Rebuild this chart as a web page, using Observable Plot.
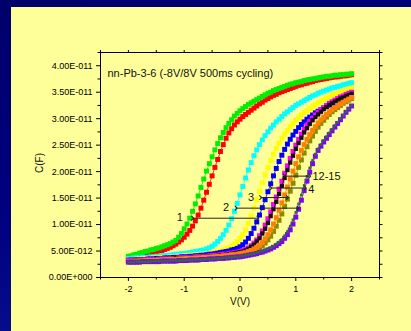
<!DOCTYPE html>
<html><head><meta charset="utf-8">
<script src="https://cdn.jsdelivr.net/npm/d3@7"></script>
<script src="https://cdn.jsdelivr.net/npm/@observablehq/plot@0.6"></script>
<style>
html,body{margin:0;padding:0;width:411px;height:331px;overflow:hidden;}
body{background:linear-gradient(160deg,#00006a 0%,#000080 45%,#0c1c96 100%);position:relative;font-family:"Liberation Sans",Arial,sans-serif;}
#panel{position:absolute;left:11px;top:7px;right:0;bottom:0;background:#ffff99;}
#chart{position:absolute;left:0;top:0;}
</style></head><body><div id="panel"></div><div id="chart"></div>
<script>
// Voltage sweep points (V)
const volts = [-2,-1.95,-1.9,-1.85,-1.8,-1.75,-1.7,-1.65,-1.6,-1.55,-1.5,-1.45,-1.4,-1.35,-1.3,-1.25,-1.2,-1.15,-1.1,-1.05,
  -1,-0.95,-0.9,-0.85,-0.8,-0.75,-0.7,-0.65,-0.6,-0.55,-0.5,-0.45,-0.4,-0.35,-0.3,-0.25,-0.2,-0.15,-0.1,-0.05,
  0,0.05,0.1,0.15,0.2,0.25,0.3,0.35,0.4,0.45,0.5,0.55,0.6,0.65,0.7,0.75,0.8,0.85,0.9,0.95,
  1,1.05,1.1,1.15,1.2,1.25,1.3,1.35,1.4,1.45,1.5,1.55,1.6,1.65,1.7,1.75,1.8,1.85,1.9,1.95,2];

// Capacitance in pF (1e-12 F)
const red = [3.8,3.9,4.0,4.1,4.2,4.3,4.4,4.5,4.6,4.7,4.8,5.0,5.1,5.3,5.5,5.7,6.0,6.3,
  6.7,7.1,7.6,8.2,8.9,9.7,10.7,11.8,13.1,14.6,16.1,17.6,19.2,20.8,22.3,23.8,25.1,26.3,27.3,28.1,28.8,29.4,29.9,
  30.4,30.8,31.2,31.6,32.0,32.4,32.8,33.1,33.5,33.8,34.1,34.4,34.6,34.9,35.1,35.3,35.5,35.7,35.9,36.1,
  36.3,36.4,36.6,36.7,36.9,37.0,37.2,37.3,37.4,37.5,37.6,37.7,37.8,37.9,37.9,38.0,38.1,38.1,38.2,38.3];
const green = [4.0,4.1,4.3,4.4,4.6,4.7,4.9,5.0,5.2,5.3,5.5,5.6,5.8,6.0,6.2,6.4,6.7,7.0,
  7.6,8.3,9.2,10.1,11.2,12.5,13.9,15.4,17.0,18.6,20.1,21.5,22.8,24.1,25.3,26.4,27.4,28.3,29.1,29.8,30.5,31.0,31.5,
  31.9,32.3,32.7,33.0,33.3,33.6,33.9,34.2,34.5,34.8,35.0,35.3,35.5,35.7,35.9,36.1,36.3,36.5,36.6,36.8,
  36.9,37.0,37.2,37.3,37.4,37.5,37.6,37.7,37.8,37.9,38.0,38.0,38.1,38.2,38.2,38.3,38.3,38.4,38.4,38.5];
const cyan = [3.6,3.6,3.7,3.7,3.7,3.8,3.8,3.8,3.9,3.9,4.0,4.0,4.1,4.1,4.2,4.2,4.3,4.4,
  4.4,4.5,4.5,4.6,4.7,4.8,4.9,5.0,5.1,5.2,5.4,5.6,5.9,6.3,6.8,7.4,8.1,8.9,9.9,11.1,12.5,14.0,15.6,
  17.2,18.8,20.3,21.7,23.0,24.1,25.1,26.0,26.8,27.5,28.2,28.8,29.4,29.9,30.4,30.9,31.3,31.7,32.1,32.5,
  32.8,33.1,33.4,33.7,34.0,34.3,34.5,34.8,35.0,35.2,35.4,35.6,35.8,35.9,36.1,36.2,36.4,36.5,36.7,36.8];
const yellow = [3.4,3.4,3.4,3.5,3.5,3.5,3.6,3.6,3.6,3.7,3.7,3.7,3.8,3.8,3.8,3.9,3.9,4.0,
  4.0,4.0,4.1,4.1,4.2,4.2,4.3,4.3,4.4,4.4,4.5,4.6,4.7,4.8,4.9,5.0,5.2,5.4,5.6,5.9,6.3,6.8,7.4,
  8.1,9.0,10.2,11.6,13.1,14.7,16.3,17.9,19.4,20.8,22.1,23.3,24.4,25.4,26.3,27.1,27.8,28.5,29.1,29.7,
  30.2,30.7,31.1,31.5,31.9,32.3,32.6,33.0,33.3,33.6,33.9,34.1,34.4,34.6,34.8,35.0,35.2,35.4,35.6,35.8];
const blue = [3.3,3.3,3.3,3.4,3.4,3.4,3.4,3.5,3.5,3.5,3.6,3.6,3.6,3.7,3.7,3.7,3.8,3.8,
  3.8,3.9,3.9,3.9,4.0,4.0,4.1,4.1,4.2,4.2,4.3,4.4,4.4,4.5,4.6,4.7,4.8,4.9,5.0,5.2,5.3,5.5,5.8,
  6.2,6.7,7.4,8.3,9.3,10.5,11.8,13.2,14.7,16.2,17.7,19.2,20.6,21.9,23.1,24.2,25.2,26.1,26.9,27.6,
  28.3,28.9,29.4,29.9,30.3,30.7,31.1,31.4,31.7,32.0,32.3,32.5,32.8,33.0,33.2,33.4,33.6,33.8,34.0,34.2];
const magenta = [3.2,3.2,3.2,3.3,3.3,3.3,3.3,3.4,3.4,3.4,3.4,3.5,3.5,3.5,3.5,3.6,3.6,3.6,
  3.7,3.7,3.7,3.8,3.8,3.8,3.9,3.9,3.9,4.0,4.0,4.1,4.1,4.2,4.2,4.3,4.4,4.4,4.5,4.6,4.7,4.8,4.9,
  5.1,5.3,5.6,6.0,6.5,7.1,7.9,8.8,9.9,11.1,12.4,13.8,15.2,16.7,18.2,19.7,21.1,22.5,23.8,25.0,
  26.1,27.1,28.0,28.8,29.5,30.1,30.7,31.2,31.7,32.1,32.5,32.9,33.2,33.5,33.8,34.1,34.3,34.6,34.8,35.0];
const black = [3.1,3.1,3.2,3.2,3.2,3.2,3.3,3.3,3.3,3.3,3.4,3.4,3.4,3.4,3.5,3.5,3.5,3.6,
  3.6,3.6,3.6,3.7,3.7,3.7,3.8,3.8,3.8,3.9,3.9,3.9,4.0,4.0,4.1,4.2,4.2,4.3,4.4,4.5,4.6,4.7,4.8,
  4.9,5.1,5.4,5.8,6.2,6.8,7.4,8.3,9.2,10.3,11.6,12.9,14.3,15.8,17.3,18.8,20.3,21.7,23.0,24.3,
  25.4,26.4,27.4,28.2,29.0,29.7,30.3,30.8,31.3,31.8,32.2,32.6,32.9,33.2,33.5,33.8,34.0,34.3,34.5,34.7];
const olive = [3.0,3.0,3.0,3.0,3.1,3.1,3.1,3.1,3.2,3.2,3.2,3.2,3.3,3.3,3.3,3.3,3.4,3.4,
  3.4,3.4,3.5,3.5,3.5,3.5,3.6,3.6,3.6,3.7,3.7,3.7,3.8,3.8,3.8,3.9,3.9,4.0,4.0,4.1,4.1,4.2,4.3,
  4.4,4.5,4.6,4.8,5.0,5.3,5.6,6.0,6.5,7.1,7.8,8.7,9.7,10.8,12.0,13.4,14.8,16.3,17.8,19.3,
  20.8,22.2,23.5,24.7,25.8,26.7,27.6,28.4,29.1,29.7,30.3,30.8,31.3,31.7,32.1,32.5,32.9,33.2,33.5,33.8];
const orange = [3.0,3.0,3.1,3.1,3.1,3.1,3.2,3.2,3.2,3.2,3.3,3.3,3.3,3.3,3.4,3.4,3.4,3.4,
  3.5,3.5,3.5,3.6,3.6,3.6,3.7,3.7,3.7,3.8,3.8,3.8,3.9,3.9,4.0,4.0,4.1,4.1,4.2,4.3,4.3,4.4,4.5,
  4.6,4.7,4.9,5.1,5.4,5.7,6.1,6.6,7.3,8.1,9.0,10.1,11.3,12.7,14.1,15.6,17.1,18.6,20.1,21.5,
  22.8,24.0,25.1,26.1,27.0,27.8,28.5,29.2,29.8,30.3,30.8,31.3,31.7,32.1,32.5,32.8,33.1,33.4,33.7,34.0];
const purple = [2.9,2.9,2.9,2.9,2.9,3.0,3.0,3.0,3.0,3.0,3.0,3.0,3.1,3.1,3.1,3.1,3.1,3.1,
  3.2,3.2,3.2,3.2,3.3,3.3,3.3,3.3,3.4,3.4,3.4,3.5,3.5,3.5,3.6,3.6,3.6,3.7,3.7,3.8,3.8,3.9,3.9,
  4.0,4.1,4.2,4.3,4.4,4.5,4.7,4.8,5.0,5.2,5.4,5.7,6.0,6.4,6.8,7.4,8.1,9.0,10.1,11.4,
  12.9,14.6,16.4,18.2,19.9,21.5,22.9,24.0,24.8,25.6,26.3,27.0,27.7,28.4,29.1,29.8,30.5,31.2,31.8,32.4];
const darkgreen = [2.9,2.9,2.9,3.0,3.0,3.0,3.0,3.0,3.0,3.1,3.1,3.1,3.1,3.1,3.1,3.2,3.2,3.2,
  3.2,3.2,3.3,3.3,3.3,3.3,3.4,3.4,3.4,3.4,3.5,3.5,3.5,3.6,3.6,3.6,3.7,3.7,3.8,3.8,3.9,3.9,4.0,
  4.1,4.2,4.3,4.4,4.5,4.7,4.8,5.0,5.2,5.4,5.6,5.9,6.3,6.7,7.2,7.9,8.7,9.7,10.9,12.3,
  13.9,15.6,17.4,19.1,20.7,22.1,23.3,24.3,25.1,25.9,26.6,27.3,28.0,28.7,29.3,30.0,30.6,31.3,31.9,32.5];

// Arrows marking the shift between cycles
const arrowLabels = ["1","2","3","4","12-15"];
const arrowFromV = [-0.85,-0.07,0.37,0.55,0.79];
const arrowToV = [0.32,1.04,0.85,1.17,1.25];
const arrowC = [11.2,13.1,15.1,16.9,19.15];
const labelV = [-1.08,-0.25,0.2,1.28,1.55];
const labelC = [11.4,13.3,15.2,16.6,19.0];

// Axis ticks
const xMajor = [-2,-1,0,1,2];
const xMinor = [-2.5,-1.5,-0.5,0.5,1.5,2.5];
const xTop = [-2.5,-2,-1.5,-1,-0.5,0,0.5,1,1.5,2,2.5];
const yMajor = [0,5,10,15,20,25,30,35,40];
const yMinor = [2.5,7.5,12.5,17.5,22.5,27.5,32.5,37.5,42.5];
const yRight = [0,2.5,5,7.5,10,12.5,15,17.5,20,22.5,25,27.5,30,32.5,35,37.5,40,42.5];

const titleText = "nn-Pb-3-6 (-8V/8V 500ms cycling)";
const xLabel = "V(V)";
const yLabel = "C(F)";

// styles
const seriesList = [
  {vals: red, color: "#ff0000", r: 2.8},
  {vals: green, color: "#00ee00", r: 2.8},
  {vals: cyan, color: "#00ffff", r: 2.8},
  {vals: yellow, color: "#ffff00", r: 2.8},
  {vals: blue, color: "#0000ff", r: 2.8},
  {vals: magenta, color: "#ff00ff", r: 2.8},
  {vals: black, color: "#111111", r: 2.4},
  {vals: olive, color: "#8a8a00", r: 2.8},
  {vals: orange, color: "#ff8000", r: 2.8},
  {vals: purple, color: "#8000ff", r: 2.8},
  {vals: darkgreen, color: "#2f6a3a", r: 1.5}
];

const fmtE = d => {
  if (d === 0) return "0.00E+000";
  const s = (d * 1e-12).toExponential(2);
  const [m, e] = s.split("e");
  const n = +e;
  return m + "E" + (n < 0 ? "-" : "+") + String(Math.abs(n)).padStart(3, "0");
};

const seriesMarks = [];
for (const s of seriesList) {
  const rows = volts.map((v, i) => ({V: v, C: s.vals[i]}));
  seriesMarks.push(Plot.line(rows, {x: "V", y: "C", stroke: s.color, strokeWidth: 0.8}));
  seriesMarks.push(Plot.dot(rows, {x: "V", y: "C", symbol: "square", r: s.r, fill: s.color}));
}

const arrows = arrowLabels.map((t, i) => ({v1: arrowFromV[i], v2: arrowToV[i], c: arrowC[i]}));
const labels = arrowLabels.map((t, i) => ({t, v: labelV[i], c: labelC[i]}));

const font = '"Liberation Sans",Arial,sans-serif';
const plot = Plot.plot({
  width: 411, height: 331,
  marginTop: 52, marginRight: 32, marginBottom: 54, marginLeft: 100,
  style: {background: "transparent", fontFamily: font, fontSize: "9px", color: "#000", overflow: "visible"},
  x: {domain: [-2.5, 2.5]},
  y: {domain: [0, 42.5]},
  marks: [
    ...seriesMarks,
    Plot.link(arrows, {x1: "v1", x2: "v2", y1: "c", y2: "c", stroke: "#222", strokeWidth: 1, marker: "arrow"}),
    Plot.text(labels, {x: "v", y: "c", text: "t", fontSize: 11, fill: "#111"}),
    Plot.text([titleText], {frameAnchor: "top-left", dx: 7, dy: 17, textAnchor: "start", fontSize: 11, fill: "#111"}),
    Plot.text([xLabel], {frameAnchor: "bottom", dy: 27, fontSize: 10, fill: "#111"}),
    Plot.text([yLabel], {frameAnchor: "left", dx: -61, dy: 8, rotate: -90, fontSize: 10, fill: "#111"}),
    Plot.axisX({ticks: xMajor, tickSize: 4, tickPadding: 4, tickFormat: d => String(d), label: null}),
    Plot.axisX({ticks: xMinor, tickSize: 2.5, tickFormat: () => "", label: null}),
    Plot.axisX({anchor: "top", ticks: xTop, tickSize: 3, tickFormat: () => "", label: null}),
    Plot.axisY({ticks: yMajor, tickSize: 4, tickPadding: 4, tickFormat: fmtE, label: null}),
    Plot.axisY({ticks: yMinor, tickSize: 2.5, tickFormat: () => "", label: null}),
    Plot.axisY({anchor: "right", ticks: yRight, tickSize: 2.5, tickFormat: () => "", label: null}),
    Plot.frame({stroke: "#000", strokeWidth: 1})
  ]
});
document.getElementById("chart").appendChild(plot);
</script>
</body></html>
